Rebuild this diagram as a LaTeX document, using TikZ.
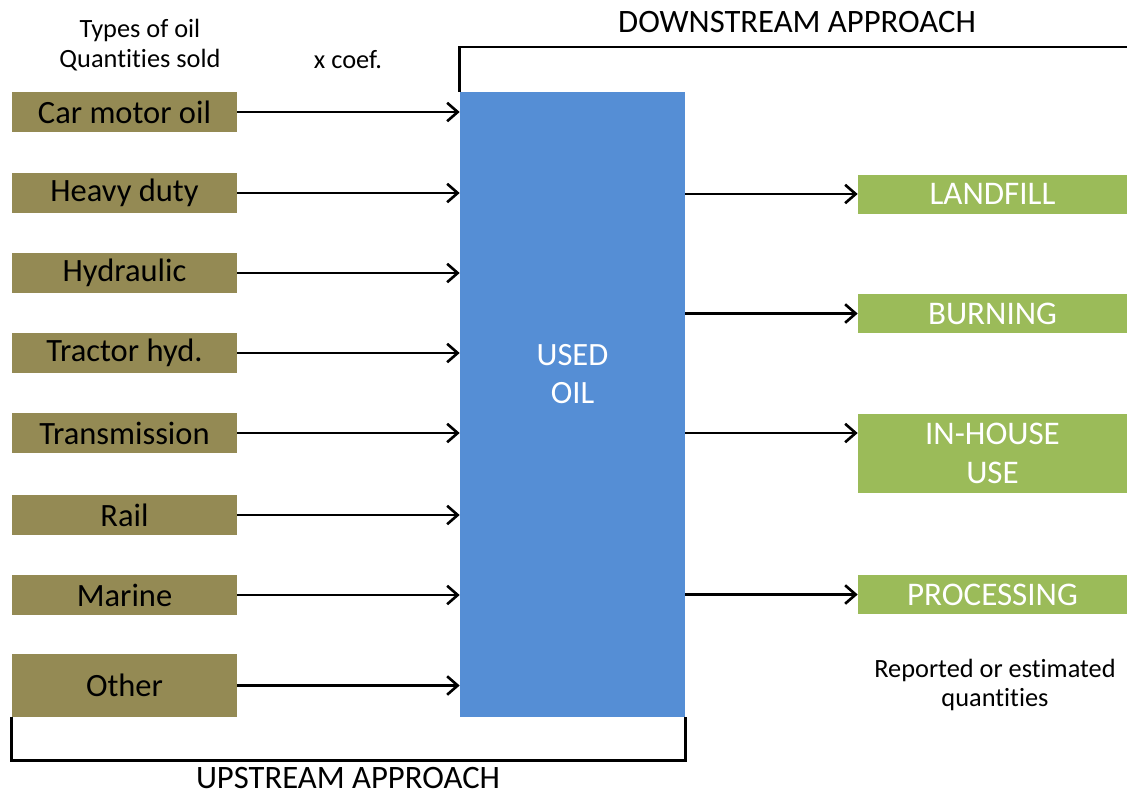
\documentclass[tikz,border=0pt]{standalone}
\usepackage{fontspec}
\setmainfont{Carlito}[Ligatures={NoCommon}]
\usepackage{tikz}
\usetikzlibrary{arrows.meta,calc}

\definecolor{oilbrown}{HTML}{948A54}
\definecolor{usedblue}{HTML}{558ED5}
\definecolor{fategreen}{HTML}{9BBB59}

\begin{document}
\begin{tikzpicture}[x=0.02cm, y=-0.02cm,
    oilbox/.style={fill=oilbrown, minimum width=4.5cm, minimum height=0.8cm, inner sep=0pt,
                   font=\fontsize{18.5}{22}\selectfont},
    fatebox/.style={fill=fategreen, text=white, minimum width=5.38cm, minimum height=0.78cm,
                    inner sep=0pt, align=center, font=\fontsize{18.8}{22}\selectfont},
    flow/.style={line width=1.5pt, -{Straight Barb[length=6pt,width=10.5pt,line width=1.5pt]}},
    bracket/.style={line width=1.5pt},
    small/.style={align=center, font=\fontsize{15}{17}\selectfont},
    big/.style={font=\fontsize{18.6}{21}\selectfont, inner sep=1pt}]

\useasboundingbox (0,0) rectangle (1127,796);

% used oil tank in the middle
\node[fill=usedblue, minimum width=4.5cm, minimum height=12.5cm, inner sep=0pt] (used) at (572.5,404.5) {};
\node[text=white, align=center, font=\fontsize{18.5}{22}\selectfont] (usedlbl) at (572.5,374) {USED\\OIL};

% oil types sold
\foreach \nm/\txt/\y in {car/Car motor oil/112, heavy/Heavy duty/193, hyd/Hydraulic/273,
    tract/Tractor hyd./353, trans/Transmission/433, rail/Rail/515, marine/Marine/595}
{
    \node[oilbox] (\nm) at (124.5,\y) {\txt};
}
\node[oilbox, minimum height=1.26cm] (other) at (124.5,685.5) {Other};

\foreach \nm in {car,heavy,hyd,tract,trans,rail,marine,other}
{
    \draw[flow] (\nm.east) -- (\nm.east -| used.west);
}

% where it ends up
\node[fatebox] (land) at (992.5,194) {LANDFILL};
\node[fatebox] (burn) at (992.5,313.5) {BURNING};
\node[fatebox, minimum height=1.58cm] (inhouse) at (992.5,453.5) {IN-HOUSE\\USE};
\node[fatebox] (proc) at (992.5,594.5) {PROCESSING};

\draw[flow] (used.east |- land.west) -- (land.west);
\draw[flow] (used.east |- burn.west) -- (burn.west);
\draw[flow] (used.east |- trans.east) -- (inhouse.west |- trans.east);
\draw[flow] (used.east |- proc.west) -- (proc.west);

% headings
\node[small] (types) at (140,45) {Types of oil\\Quantities sold};
\node[small] (coef) at (348,60) {x coef.};
\node[small] (reported) at (995,685) {Reported or estimated\\quantities};

% the two approaches
\coordinate (downend) at (1127,47);
\draw[bracket] (used.north west) |- (downend);
\node[big] (down) at (797,22) {DOWNSTREAM APPROACH};

\draw[bracket] (other.south west) -- ++(0,43) -| (used.south east);
\node[big] (up) at (348,778) {UPSTREAM APPROACH};

\end{tikzpicture}
\end{document}
